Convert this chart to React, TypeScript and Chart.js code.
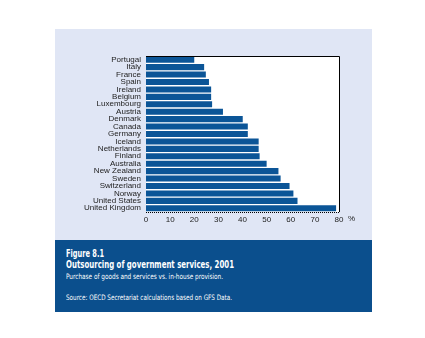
import React, { useEffect, useRef } from "react";
import { Chart, registerables } from "chart.js";

Chart.register(...registerables);

const countries = [
  "Portugal", "Italy", "France", "Spain", "Ireland", "Belgium", "Luxembourg",
  "Austria", "Denmark", "Canada", "Germany", "Iceland", "Netherlands", "Finland",
  "Australia", "New Zealand", "Sweden", "Switzerland", "Norway", "United States",
  "United Kingdom",
];
const outsourcing = [
  20.0, 24.1, 24.8, 26.1, 27.0, 27.0, 27.4,
  31.9, 40.1, 42.2, 42.2, 46.7, 46.7, 47.1,
  50.0, 54.9, 55.8, 59.5, 61.1, 62.8,
  78.8,
];
const xTicks = [0, 10, 20, 30, 40, 50, 60, 70, 80];
const unitLabel = "%";

const figureLabel = "Figure 8.1";
const titleText = "Outsourcing of government services, 2001";
const subtitleText = "Purchase of goods and services vs. in-house provision.";
const sourceText = "Source: OECD Secretariat calculations based on GFS Data.";

const BAR = "#0b5597";
const PANEL = "#e0e6f5";
const CAPTION = "#0b4f8d";
const CAP_FAMILY = "'DejaVu Sans', 'Liberation Sans', Arial, sans-serif";

let measureCtx: CanvasRenderingContext2D | null = null;
function measure(text: string, font: string): number {
  if (!measureCtx) measureCtx = document.createElement("canvas").getContext("2d");
  if (!measureCtx) return 0;
  measureCtx.font = font;
  return measureCtx.measureText(text).width;
}

function FitText(props: { text: string; width: number; size: number; bold?: boolean; left: number; top: number }) {
  const { text, width, size, bold, left, top } = props;
  const w = measure(text, `${bold ? "bold " : ""}${size}px ${CAP_FAMILY}`) || width;
  const sx = width / w;
  return (
    <div
      style={{
        position: "absolute",
        left,
        top,
        fontSize: size,
        fontWeight: bold ? "bold" : "normal",
        fontFamily: CAP_FAMILY,
        lineHeight: `${size + 2}px`,
        whiteSpace: "nowrap",
        transform: `scaleX(${sx})`,
        transformOrigin: "left top",
      }}
    >
      {text}
    </div>
  );
}

export default function App() {
  const ref = useRef<HTMLCanvasElement | null>(null);

  useEffect(() => {
    if (!ref.current) return;
    const framePlugin = {
      id: "frame",
      beforeDatasetsDraw(chart: any) {
        const { ctx, chartArea: a } = chart;
        ctx.save();
        ctx.fillStyle = "#ffffff";
        ctx.fillRect(a.left, a.top, a.right - a.left, a.bottom - a.top);
        ctx.restore();
      },
      afterDatasetsDraw(chart: any) {
        const { ctx, chartArea: a } = chart;
        ctx.save();
        ctx.strokeStyle = "#000";
        ctx.lineWidth = 1;
        ctx.beginPath();
        ctx.moveTo(a.left, a.top + 0.5);
        ctx.lineTo(a.right + 0.5, a.top + 0.5);
        ctx.lineTo(a.right + 0.5, a.bottom);
        ctx.stroke();
        ctx.setLineDash([1, 1]);
        ctx.beginPath();
        ctx.moveTo(a.left, a.bottom + 0.5);
        ctx.lineTo(a.right + 1, a.bottom + 0.5);
        ctx.stroke();
        const xs = chart.scales.x;
        const px = xs.getPixelForValue(xTicks[xTicks.length - 1]);
        ctx.setLineDash([]);
        ctx.fillStyle = "#222";
        ctx.font = "8px 'Liberation Sans', Arial, sans-serif";
        ctx.textAlign = "left";
        ctx.textBaseline = "top";
        ctx.fillText(unitLabel, px + 9, a.bottom + 3);
        ctx.restore();
      },
    };

    const chart = new Chart(ref.current, {
      type: "bar",
      data: {
        labels: countries,
        datasets: [
          {
            data: outsourcing,
            backgroundColor: BAR,
            borderWidth: 0,
            barPercentage: 0.82,
            categoryPercentage: 1,
          },
        ],
      },
      options: {
        indexAxis: "y",
        animation: false,
        responsive: false,
        devicePixelRatio: 1,
        layout: { padding: { top: 27, right: 33, left: 0, bottom: 0 } },
        plugins: { legend: { display: false }, tooltip: { enabled: false } },
        scales: {
          x: {
            min: 0,
            max: 80,
            afterBuildTicks(scale: any) {
              scale.ticks = xTicks.map((v) => ({ value: v }));
            },
            afterFit(scale: any) {
              scale.height = 28;
            },
            grid: { display: false, drawTicks: false, tickLength: 0 },
            border: { display: false },
            ticks: {
              padding: 3,
              color: "#222",
              font: { family: "'Liberation Sans', Arial, sans-serif", size: 8 },
              maxRotation: 0,
            },
          },
          y: {
            afterFit(scale: any) {
              scale.width = 91;
            },
            grid: { display: false, drawTicks: false, tickLength: 0 },
            border: { display: false },
            ticks: {
              autoSkip: false,
              padding: 5,
              color: "#222",
              font: { family: "'Liberation Sans', Arial, sans-serif", size: 8 },
            },
          },
        },
      },
      plugins: [framePlugin],
    });
    return () => chart.destroy();
  }, []);

  return (
    <div style={{ position: "absolute", left: 0, top: 0, width: 425, height: 338, background: "#fff" }}>
      <div style={{ position: "absolute", left: 55, top: 29, width: 317, height: 211, background: PANEL }}>
        <canvas ref={ref} width={317} height={211} style={{ display: "block", width: 317, height: 211 }} />
      </div>
      <div
        style={{
          position: "absolute",
          left: 55,
          top: 240,
          width: 317,
          height: 72,
          background: CAPTION,
          color: "#fff",
        }}
      >
        <FitText text={figureLabel} width={38} size={10} bold left={11} top={8} />
        <FitText text={titleText} width={168} size={10} bold left={11} top={19} />
        <FitText text={subtitleText} width={157} size={7.5} left={11} top={32} />
        <FitText text={sourceText} width={166} size={7.5} left={11} top={53} />
      </div>
    </div>
  );
}
